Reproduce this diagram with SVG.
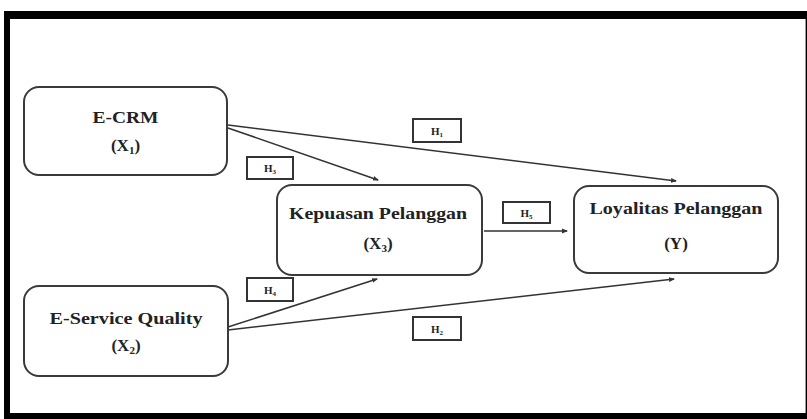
<svg xmlns="http://www.w3.org/2000/svg" width="807" height="419" viewBox="0 0 807 419">
<style>
.node rect{fill:#fff;stroke:#3a3a3a;stroke-width:2}
.t{font-family:"Liberation Serif","Times New Roman",serif;font-weight:bold;font-size:17px;fill:#222;text-anchor:middle}
.conn line{stroke:#333;stroke-width:1.6;fill:none}
.lab rect{fill:#fff;stroke:#333;stroke-width:2}
.lt{font-family:"Liberation Serif","Times New Roman",serif;font-weight:bold;font-size:11px;fill:#222;text-anchor:middle}
</style>
<defs>
<marker id="ah" markerWidth="6" markerHeight="6" refX="5" refY="3" orient="auto" markerUnits="userSpaceOnUse">
<path d="M0,0.6 L6,3 L0,5.4 Z" fill="#333"/>
</marker>
</defs>
<rect x="0" y="0" width="807" height="419" fill="#fff"/>
<path d="M4,11 H807 V419 H4 Z M10,19 V413 H805 V19 Z" fill="#000" fill-rule="evenodd"/>
<line x1="805.5" y1="19" x2="805.5" y2="413" stroke="#999" stroke-width="1"/>

<g id="connectors" class="conn">
<line x1="228" y1="125" x2="676" y2="181" marker-end="url(#ah)"/>
<line x1="228" y1="128" x2="378" y2="180" marker-end="url(#ah)"/>
<line x1="484" y1="231" x2="567" y2="231" marker-end="url(#ah)"/>
<line x1="228" y1="327" x2="377" y2="279" marker-end="url(#ah)"/>
<line x1="228" y1="330" x2="674" y2="279" marker-end="url(#ah)"/>
</g>

<g id="ecrm" class="node">
<rect x="24" y="87" width="203" height="88" rx="15"/>
<text class="t" x="125.5" y="123" textLength="66" lengthAdjust="spacingAndGlyphs">E-CRM</text>
<text class="t" x="125.5" y="151">(X<tspan font-size="11" dy="3">1</tspan><tspan dy="-3">)</tspan></text>
</g>

<g id="esq" class="node">
<rect x="24" y="286" width="204" height="90" rx="15"/>
<text class="t" x="126" y="324" textLength="153" lengthAdjust="spacingAndGlyphs">E-Service Quality</text>
<text class="t" x="126" y="351">(X<tspan font-size="11" dy="3">2</tspan><tspan dy="-3">)</tspan></text>
</g>

<g id="kepuasan" class="node">
<rect x="277" y="185" width="205" height="90" rx="15"/>
<text class="t" x="378" y="219" textLength="178" lengthAdjust="spacingAndGlyphs">Kepuasan Pelanggan</text>
<text class="t" x="378" y="249">(X<tspan font-size="11" dy="3">3</tspan><tspan dy="-3">)</tspan></text>
</g>

<g id="loyalitas" class="node">
<rect x="574" y="186" width="204" height="87" rx="15"/>
<text class="t" x="676" y="214" textLength="173" lengthAdjust="spacingAndGlyphs">Loyalitas Pelanggan</text>
<text class="t" x="676" y="249">(Y)</text>
</g>

<g id="h1" class="lab">
<rect x="413" y="119" width="48" height="23"/>
<text class="lt" x="437" y="134.5">H<tspan font-size="7" dy="2">1</tspan></text>
</g>
<g id="h3" class="lab">
<rect x="247" y="157" width="46" height="22"/>
<text class="lt" x="270" y="172">H<tspan font-size="7" dy="2">3</tspan></text>
</g>
<g id="h5" class="lab">
<rect x="503" y="202" width="47" height="21"/>
<text class="lt" x="526.5" y="216.5">H<tspan font-size="7" dy="2">5</tspan></text>
</g>
<g id="h4" class="lab">
<rect x="247" y="278" width="46" height="23"/>
<text class="lt" x="270" y="293.5">H<tspan font-size="7" dy="2">4</tspan></text>
</g>
<g id="h2" class="lab">
<rect x="413" y="317" width="48" height="23"/>
<text class="lt" x="437" y="332.5">H<tspan font-size="7" dy="2">2</tspan></text>
</g>
</svg>
